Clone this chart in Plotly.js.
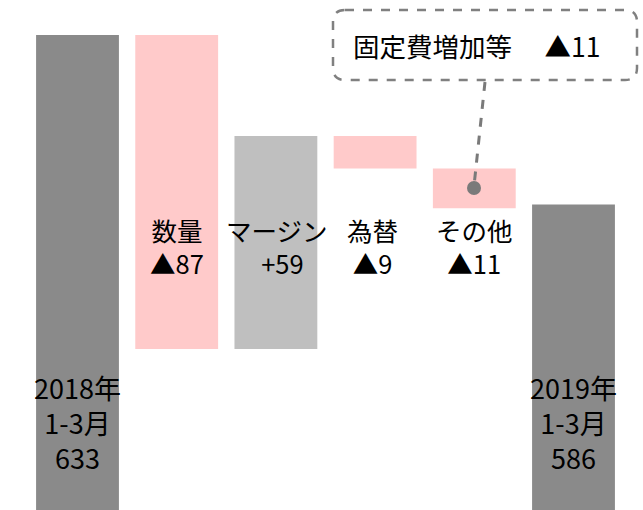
<!DOCTYPE html>
<html><head><meta charset="utf-8">
<script src="https://cdn.plot.ly/plotly-3.0.1.min.js"></script>
<style>html,body{margin:0;padding:0;background:#fff}#chart{width:643px;height:510px}</style>
</head><body><div id="chart"></div>
<script>
// Data
const categories = ["2018年1-3月", "数量", "マージン", "為替", "その他", "2019年1-3月"];
const measures = ["absolute", "relative", "relative", "relative", "relative", "absolute"];
const values = [633, -87, 59, -9, -11, 586];
const labelLines = [
  ["2018年", "1-3月", "633"],
  ["数量", "▲87"],
  ["マージン", "\u00a0\u00a0+59"],
  ["為替", "▲9"],
  ["その他", "▲11"],
  ["2019年", "1-3月", "586"]
];
const calloutText = "固定費増加等\u3000\u00a0▲11";

const W = 643, H = 510;
const px = x => x / W;          // pixel -> paper x
const py = y => 1 - y / H;      // pixel -> paper y
const FONT = '"Noto Sans CJK JP", "Noto Sans", sans-serif';

const trace = {
  type: "waterfall",
  x: categories,
  y: values,
  measure: measures,
  width: 0.835,
  connector: {visible: false},
  totals: {marker: {color: "#8a8a8a"}},
  decreasing: {marker: {color: "#ffcaca"}},
  increasing: {marker: {color: "#bfbfbf"}},
  textposition: "none",
  hoverinfo: "none"
};

const annotations = [];
const xShift = [0, 0, 1, -3, 0, 0];
labelLines.forEach((lines, i) => {
  const outer = lines.length === 3;
  annotations.push({
    xref: "x", yref: "paper", x: categories[i], y: py(outer ? 422 : 246),
    xshift: xShift[i], text: lines.join("<br>"), showarrow: false,
    font: {family: FONT, size: outer ? 27 : 25.5, color: "#000"},
    xanchor: "center", yanchor: "middle", align: "center"
  });
});
annotations.push({
  xref: "paper", yref: "paper", x: px(477), y: py(45), text: calloutText,
  showarrow: false, font: {family: FONT, size: 26.5, color: "#000"},
  xanchor: "center", yanchor: "middle"
});

// rounded dashed box
const L = 333, R = 637, T = 10, B = 80, r = 12;
const p = (x, y) => px(x) + "," + py(y);
const boxPath = "M" + p(L + r, T) + " L" + p(R - r, T) + " Q" + p(R, T) + " " + p(R, T + r) +
  " L" + p(R, B - r) + " Q" + p(R, B) + " " + p(R - r, B) +
  " L" + p(L + r, B) + " Q" + p(L, B) + " " + p(L, B - r) +
  " L" + p(L, T + r) + " Q" + p(L, T) + " " + p(L + r, T) + " Z";

const shapes = [
  {type: "path", xref: "paper", yref: "paper", path: boxPath,
   line: {color: "#808080", width: 2.5, dash: "dash"}, fillcolor: "rgba(0,0,0,0)"},
  {type: "line", xref: "paper", yref: "paper", x0: px(485), y0: py(82), x1: px(474), y1: py(186),
   line: {color: "#7a7a7a", width: 3, dash: "dash"}},
  {type: "circle", xref: "paper", yref: "paper", x0: px(467), y0: py(181), x1: px(481), y1: py(195),
   fillcolor: "#7a7a7a", line: {width: 0}}
];

const layout = {
  width: W, height: H,
  margin: {l: 0, r: 0, t: 0, b: 0},
  paper_bgcolor: "#fff", plot_bgcolor: "#fff",
  showlegend: false,
  xaxis: {range: [-77.5 / 99.2, -77.5 / 99.2 + W / 99.2], visible: false, fixedrange: true},
  yaxis: {range: [633 - 475 / 3.609, 633 + 35 / 3.609], visible: false, fixedrange: true},
  annotations: annotations,
  shapes: shapes
};

Plotly.newPlot("chart", [trace], layout, {staticPlot: true, displayModeBar: false});
</script>
</body></html>
